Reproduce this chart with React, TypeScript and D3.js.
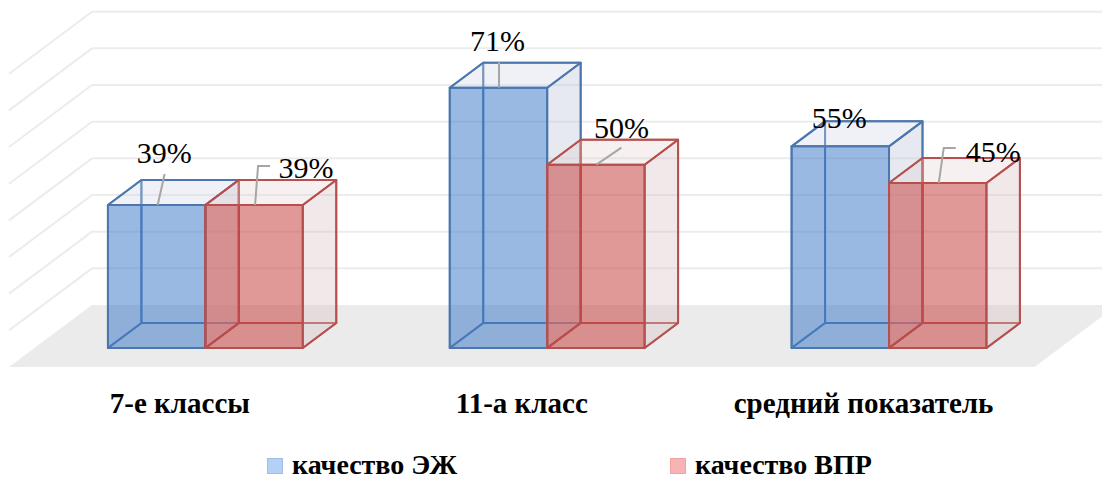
import React from "react";
import * as d3 from "d3";

const categories = ["7-е классы", "11-а класс", "средний показатель"];
const seriesNames = ["качество ЭЖ", "качество ВПР"];
const ejValues = [0.39, 0.71, 0.55];
const vprValues = [0.39, 0.5, 0.45];
const gridTicks = [0, 0.1, 0.2, 0.3, 0.4, 0.5, 0.6, 0.7, 0.8];

// label nudges relative to bar front-top centre
const labelLayout: { t: [number, number]; leader: [number, number][] }[][] = [
  [
    { t: [7.5, -42], leader: [[1, 0], [8, -31]] },
    { t: [52, -27], leader: [[1, 0], [4, -39], [16, -39]] },
  ],
  [
    { t: [-1, -37], leader: [[0.5, 0], [0.5, -26]] },
    { t: [25.5, -27], leader: [[0.5, 0], [25.5, -17]] },
  ],
  [
    { t: [-1, -18], leader: [] },
    { t: [55.5, -21], leader: [[1, 0], [6, -35], [18, -35]] },
  ],
];

const W = 1110;
const H = 479;

const floorFrontY = 367;
const depthFull: [number, number] = [83, -62];
const barFrontT = 19 / 62;
const barBackT = 44 / 62;

const styles = [
  {
    front: "rgba(60,120,200,0.52)",
    side: "rgba(200,208,222,0.45)",
    top: "rgba(205,212,226,0.32)",
    stroke: "#4C77AE",
    legendFill: "#B5D0F7",
    legendStroke: "#A0BEEA",
  },
  {
    front: "rgba(200,70,68,0.55)",
    side: "rgba(215,190,195,0.35)",
    top: "rgba(225,205,208,0.3)",
    stroke: "#B5504E",
    legendFill: "#F8B4B4",
    legendStroke: "#EBA3A3",
  },
];

export default function App() {
  const x = d3.scaleBand<string>().domain(categories).range([9, 1034.5]).paddingInner(0).paddingOuter(0);
  const groupW = x.bandwidth() * 0.57;
  const xs = d3.scaleBand<string>().domain(seriesNames).range([0, groupW]);
  const yScale = d3.scaleLinear().domain([0, 0.8]).range([0, 293.3]);

  const x0 = x.range()[0];
  const x1 = x.range()[1];
  const backY = floorFrontY + depthFull[1];
  const backX0 = x0 + depthFull[0];
  const backX1 = x1 + depthFull[0];

  const bdx0 = depthFull[0] * barFrontT;
  const bdy0 = depthFull[1] * barFrontT;
  const ddx = depthFull[0] * (barBackT - barFrontT);
  const ddy = depthFull[1] * (barBackT - barFrontT);
  const baseY = floorFrontY + bdy0;

  const pts = (p: [number, number][]) => p.map((q) => q.join(",")).join(" ");
  const line = d3.line();

  const bars: React.ReactNode[] = [];
  const labels: React.ReactNode[] = [];
  const allValues = [ejValues, vprValues];

  categories.forEach((c, ci) => {
    seriesNames.forEach((s, si) => {
      const v = allValues[si][ci];
      const st = styles[si];
      const bx = (x(c) as number) + (x.bandwidth() - groupW) / 2 + (xs(s) as number) + bdx0;
      const w = xs.bandwidth();
      const h = yScale(v);
      const yb = baseY;
      const yt = yb - h;
      const FLB: [number, number] = [bx, yb];
      const FRB: [number, number] = [bx + w, yb];
      const FRT: [number, number] = [bx + w, yt];
      const FLT: [number, number] = [bx, yt];
      const o = (p: [number, number]): [number, number] => [p[0] + ddx, p[1] + ddy];
      const BLB = o(FLB), BRB = o(FRB), BRT = o(FRT), BLT = o(FLT);
      const common = { stroke: st.stroke, strokeWidth: 2, strokeLinejoin: "round" as const };
      bars.push(
        <g key={`${ci}-${si}`}>
          <polygon points={pts([BLB, BRB, BRT, BLT])} fill="none" {...common} strokeOpacity={0.85} />
          <polygon points={pts([FLB, BLB, BLT, FLT])} fill="none" {...common} strokeOpacity={0.85} />
          <polygon points={pts([FLB, FRB, BRB, BLB])} fill="none" {...common} strokeOpacity={0.85} />
          <polygon points={pts([FRB, BRB, BRT, FRT])} fill={st.side} {...common} />
          <polygon points={pts([FLT, FRT, BRT, BLT])} fill={st.top} {...common} />
          <polygon points={pts([FLB, FRB, FRT, FLT])} fill={st.front} {...common} />
        </g>
      );
      const cx = bx + w / 2;
      const lay = labelLayout[ci][si];
      if (lay.leader.length) {
        labels.push(
          <path
            key={`l-${ci}-${si}`}
            d={line(lay.leader.map((p) => [cx + p[0], yt + p[1]] as [number, number])) || ""}
            fill="none"
            stroke="#A6A6A6"
            strokeWidth={2}
          />
        );
      }
      labels.push(
        <text
          key={`t-${ci}-${si}`}
          x={cx + lay.t[0]}
          y={yt + lay.t[1]}
          textAnchor="middle"
          fontFamily="Liberation Serif"
          fontSize={30}
        >
          {d3.format(".0%")(v)}
        </text>
      );
    });
  });

  return (
    <div style={{ margin: -8 }}>
      <svg width={W} height={H}>
        <polygon
          points={pts([
            [x0, floorFrontY],
            [x1, floorFrontY],
            [backX1, backY],
            [backX0, backY],
          ])}
          fill="#EBEBEB"
        />
        {gridTicks.map((t) => {
          const gy = backY - yScale(t);
          return (
            <g key={t} stroke="#ECECEC" strokeWidth={2} fill="none">
              {t > 0 && <line x1={backX0} y1={gy} x2={backX1} y2={gy} />}
              {t > 0 && <line x1={backX0} y1={gy} x2={x0} y2={gy - depthFull[1]} />}
            </g>
          );
        })}
        {bars}
        {labels}
        {categories.map((c) => (
          <text
            key={c}
            x={(x(c) as number) + x.bandwidth() / 2}
            y={413}
            textAnchor="middle"
            fontFamily="Liberation Serif"
            fontWeight="bold"
            fontSize={29}
          >
            {c}
          </text>
        ))}
        {seriesNames.map((s, i) => {
          const lx = [267, 670][i];
          return (
            <g key={s}>
              <rect x={lx + 0.5} y={458.5} width={15} height={15} fill={styles[i].legendFill} stroke={styles[i].legendStroke} strokeWidth={1} />
              <text x={lx + 25} y={474} fontFamily="Liberation Serif" fontWeight="bold" fontSize={28}>
                {s}
              </text>
            </g>
          );
        })}
      </svg>
    </div>
  );
}
